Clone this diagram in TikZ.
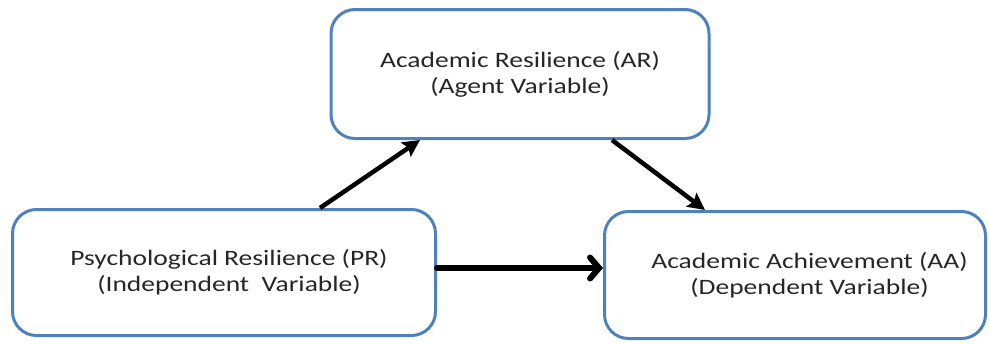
\documentclass[tikz,border=0pt]{standalone}
\usepackage{fontspec}
\setmainfont{Carlito}
\newfontfamily\widefont[FakeStretch=1.25]{Carlito}
\usetikzlibrary{arrows.meta}
\definecolor{boxblue}{HTML}{4F81BD}
\definecolor{txt}{HTML}{262626}
\begin{document}
\begin{tikzpicture}[x=1pt,y=-1pt,
  varbox/.style={draw=boxblue, line width=3pt, rounded corners=24pt,
    align=center, text=txt, font=\widefont\fontsize{22}{26}\selectfont,
    inner sep=0pt},
  link/.style={draw=black, line width=4.5pt,
    -{Stealth[length=17pt,width=17pt,inset=3pt]}},
  mainlink/.style={draw=black, line width=6pt, line cap=round,
    -{Straight Barb[length=9pt,width=21pt,line cap=round,line width=6pt]}}]
  \useasboundingbox (0,0) rectangle (990,343);
  \node[varbox, minimum width=378pt, minimum height=129pt] (ar) at (520,74)
    {Academic Resilience (AR)\\(Agent Variable)};
  \node[varbox, minimum width=423pt, minimum height=126pt] (pr) at (224,272.5)
    {\hspace*{10pt}Psychological Resilience (PR)\\\hspace*{10pt}(Independent\ \ Variable)};
  \node[varbox, minimum width=381pt, minimum height=127pt] (aa) at (795,275)
    {\hspace*{29pt}Academic Achievement (AA)\\\hspace*{29pt}(Dependent Variable)};
  \draw[link] ([xshift=96pt]pr.north) -- ([xshift=-100pt]ar.south);
  \draw[link] ([xshift=92pt]ar.south) -- ([xshift=-90pt]aa.north);
  \draw[mainlink] ([yshift=4.5pt]pr.east) -- ([yshift=4.5pt]pr.east -| aa.west);
\end{tikzpicture}
\end{document}
